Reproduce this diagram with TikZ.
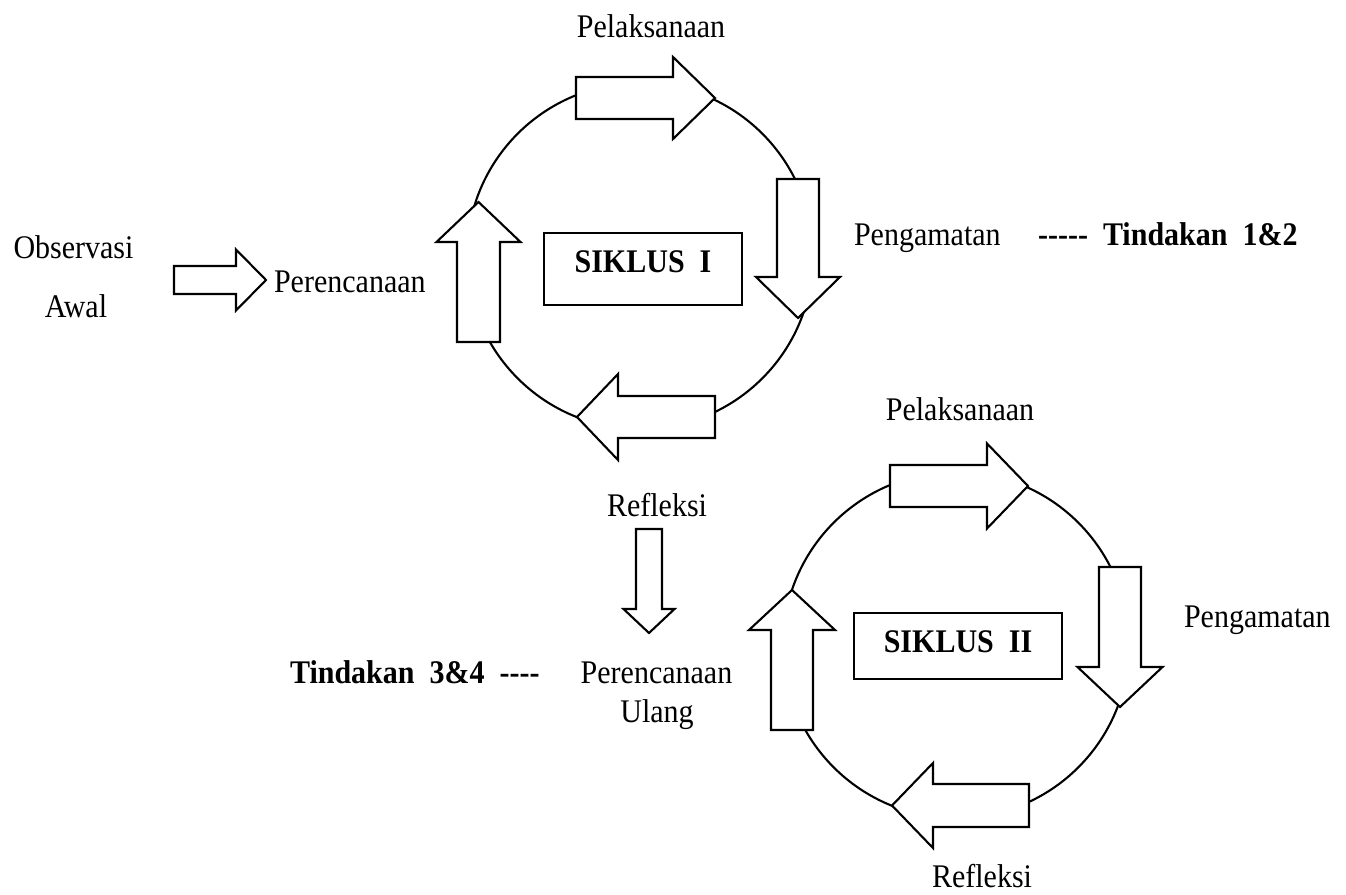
\documentclass[tikz,border=0pt]{standalone}
\usepackage{graphicx}
\usepackage{fontspec}
\setmainfont{Liberation Serif}
\newcommand\tallt[1]{\scalebox{1}[1.1]{#1}}
\begin{document}
\begin{tikzpicture}[x=1pt,y=-1pt, line width=2.1pt, line join=miter,
  lbl/.style={font=\fontsize{30}{36}\selectfont, inner sep=0pt},
  blbl/.style={font=\fontsize{30}{36}\selectfont\bfseries, inner sep=0pt},
  cyc/.style={circle, draw, minimum size=346pt, inner sep=0pt},
  sbox/.style={draw, font=\fontsize{30}{36}\selectfont\bfseries, inner sep=0pt},
  pics/blk/.style n args={4}{code={%
    \draw[fill=white] (0,-#3) -- ({#1-#2},-#3) -- ({#1-#2},-#4) -- (#1,0)
      -- ({#1-#2},#4) -- ({#1-#2},#3) -- (0,#3) -- cycle;}}]
\useasboundingbox (0,0) rectangle (1346,894);

% ---- cycle I ----
\node[cyc] (c1) at (640,256) {};
\node[sbox, minimum width=198pt, minimum height=72pt, text height=24pt, text depth=18pt] (s1) at (643,269) {\tallt{SIKLUS\ \ I}};
\pic at (576,98) {blk={139}{42}{21}{41}};
\pic[rotate=-90] at (798,179) {blk={139}{41}{21}{42}};
\pic[rotate=180] at (715,417) {blk={138}{41}{21}{43}};
\pic[rotate=90] at (478.5,342) {blk={140}{40}{21.5}{42}};

\node[lbl, anchor=base] (pel1) at (651,37) {\tallt{Pelaksanaan}};
\node[lbl, anchor=base west] (pen1) at (853,245) {\tallt{Pengamatan}};
\node[blbl, anchor=base west] (t12) at (1037,245) {\tallt{-{}-{}-{}-{}-\ \ Tindakan\ \ 1\&2}};
\node[lbl, anchor=base] (ref1) at (657,516) {\tallt{Refleksi}};
\node[lbl, anchor=base] (obs) at (73.5,258) {\tallt{Observasi}};
\node[lbl, anchor=base] (awal) at (76,317) {\tallt{Awal}};
\node[lbl, anchor=base west] (per1) at (273,292) {\tallt{Perencanaan}};
\pic at (174,280) {blk={92}{30}{14}{30.5}};

% ---- transition ----
\pic[rotate=-90] at (649,529) {blk={104}{24}{13}{25.5}};
\node[lbl, anchor=base] (per2) at (656.5,683) {\tallt{Perencanaan}};
\node[lbl, anchor=base] (ulang) at (657,722) {\tallt{Ulang}};
\node[blbl, anchor=base west] (t34) at (289,683) {\tallt{Tindakan\ \ 3\&4\ \ -{}-{}-{}-}};

% ---- cycle II ----
\node[cyc] (c2) at (956,645) {};
\node[sbox, minimum width=208pt, minimum height=66pt, text height=24pt, text depth=12pt] (s2) at (958,646) {\tallt{SIKLUS\ \ II}};
\pic at (890,486) {blk={138}{41}{21}{42.5}};
\pic[rotate=-90] at (1120,567) {blk={140}{40}{21}{42.5}};
\pic[rotate=180] at (1029,805.5) {blk={137}{41}{21.5}{42.5}};
\pic[rotate=90] at (792,730) {blk={140}{40}{21}{43}};

\node[lbl, anchor=base] (pel2) at (960,420) {\tallt{Pelaksanaan}};
\node[lbl, anchor=base west] (pen2) at (1183,627) {\tallt{Pengamatan}};
\node[lbl, anchor=base] (ref2) at (982,887) {\tallt{Refleksi}};
\end{tikzpicture}
\end{document}
